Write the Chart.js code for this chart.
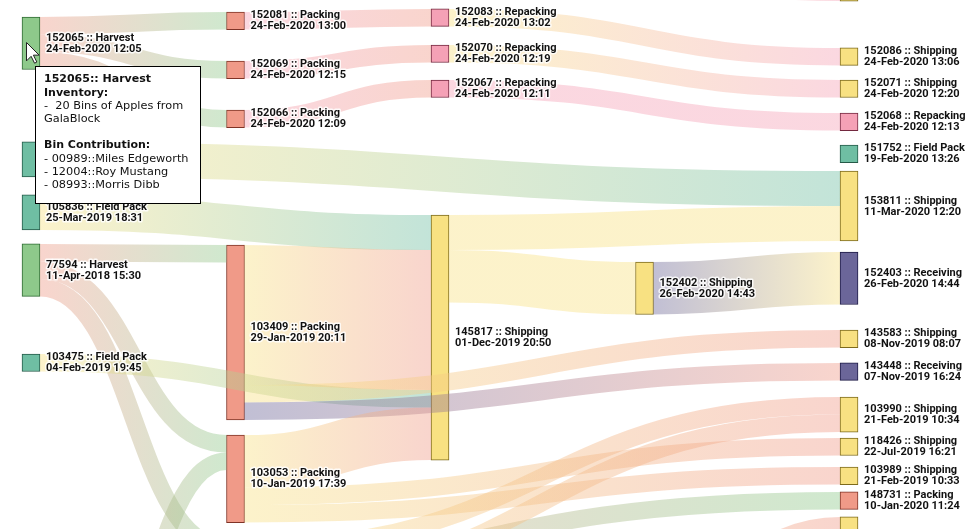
<!DOCTYPE html>
<html>
<head>
<meta charset="utf-8">
<script src="https://cdn.jsdelivr.net/npm/chart.js@4.4.1/dist/chart.umd.min.js"></script>
<style>
  html, body { margin: 0; padding: 0; background: #fff; }
  #wrap { position: relative; width: 977px; height: 529px; }
</style>
</head>
<body>
<div id="wrap"><canvas id="sankey"></canvas></div>
<script>
// ---------- Nodes (blank id = node whose label is off screen / hidden) ----------
const NODE_ID = [
  '152065', '', '105836', '77594', '103475', '', '',
  '152081', '152069', '152066', '103409', '103053', '', '',
  '', '152083', '152070', '152067', '145817', '',
  '152402',
  '', '152086', '152071', '152068', '151752', '153811', '152403', '143583', '143448',
  '103990', '118426', '103989', '148731', ''
];
const NODE_TYPE = [
  'Harvest', 'Field Pack', 'Field Pack', 'Harvest', 'Field Pack', 'Harvest', 'Harvest',
  'Packing', 'Packing', 'Packing', 'Packing', 'Packing', 'Packing', 'Packing',
  'Repacking', 'Repacking', 'Repacking', 'Repacking', 'Shipping', 'Packing',
  'Shipping',
  'Shipping', 'Shipping', 'Shipping', 'Repacking', 'Field Pack', 'Shipping', 'Receiving', 'Shipping', 'Receiving',
  'Shipping', 'Shipping', 'Shipping', 'Packing', 'Shipping'
];
const NODE_TIME = [
  '24-Feb-2020 12:05', '', '25-Mar-2019 18:31', '11-Apr-2018 15:30', '04-Feb-2019 19:45', '', '',
  '24-Feb-2020 13:00', '24-Feb-2020 12:15', '24-Feb-2020 12:09', '29-Jan-2019 20:11', '10-Jan-2019 17:39', '', '',
  '', '24-Feb-2020 13:02', '24-Feb-2020 12:19', '24-Feb-2020 12:11', '01-Dec-2019 20:50', '',
  '26-Feb-2020 14:43',
  '', '24-Feb-2020 13:06', '24-Feb-2020 12:20', '24-Feb-2020 12:13', '19-Feb-2020 13:26', '11-Mar-2020 12:20',
  '26-Feb-2020 14:44', '08-Nov-2019 08:07', '07-Nov-2019 16:24',
  '21-Feb-2019 10:34', '22-Jul-2019 16:21', '21-Feb-2019 10:33', '10-Jan-2020 11:24', ''
];
const NODE_COLUMN = [
  0, 0, 0, 0, 0, 0, 0,
  1, 1, 1, 1, 1, 1, 1,
  2, 2, 2, 2, 2, 2,
  3,
  4, 4, 4, 4, 4, 4, 4, 4, 4, 4, 4, 4, 4, 4
];
// top of each node, in bins (same unit as the flows)
const NODE_TOP = [
  0.97, 8.11, 11.14, 13.94, 20.23, 33.5, 48,
  0.69, 3.49, 6.29, 14.0, 24.86, 30.8, 32.74,
  -4, 0.51, 2.57, 4.57, 12.29, 50,
  14.97,
  -0.94, 2.74, 4.57, 6.46, 8.29, 9.77, 14.4, 18.86, 20.74, 22.69, 25.03, 26.69, 28.11, 29.54
];

// ---------- Flows (node index -> node index, bins) ----------
const LINK_SOURCE = [0, 0, 0, 7, 8, 9, 15, 16, 17, 1, 2, 3, 3, 3, 4, 6, 5, 10, 10, 10, 11, 11, 11, 18, 18, 20, 12, 13, 19, 14];
const LINK_TARGET = [7, 8, 9, 15, 16, 17, 22, 23, 24, 26, 18, 10, 11, 12, 18, 11, 33, 18, 28, 29, 18, 31, 32, 26, 20, 27, 30, 30, 34, 21];
const LINK_VALUE  = [1, 1, 1, 1, 1, 1, 1, 1, 1, 2, 2, 1, 1, 1, 1, 1, 1, 8, 1, 1, 3, 1, 1, 2, 3, 3, 1, 1, 1, 1];

// ---------- Tooltip content ----------
const TIP_LINES = [
  { text: '152065:: Harvest', bold: true },
  { text: 'Inventory:', bold: true },
  { text: '-  20 Bins of Apples from', bold: false },
  { text: 'GalaBlock', bold: false },
  { text: '', bold: false },
  { text: 'Bin Contribution:', bold: true },
  { text: '- 00989::Miles Edgeworth', bold: false },
  { text: '- 12004::Roy Mustang', bold: false },
  { text: '- 08993::Morris Dibb', bold: false }
];

// ---------- Styles ----------
const TYPE_FILL = {
  'Harvest': '#8ec98b', 'Field Pack': '#6fbea3', 'Packing': '#f09a88',
  'Repacking': '#f5a1b6', 'Shipping': '#f8e182', 'Receiving': '#6b6699'
};
const TYPE_STROKE = {
  'Harvest': '#2f6b33', 'Field Pack': '#255a48', 'Packing': '#7f3326',
  'Repacking': '#73283f', 'Shipping': '#7d6a1c', 'Receiving': '#1d1a45'
};
const NODE_WIDTH = 18;
const UNIT_PX = 17.5;
const VIEW_H = 529;
const LINK_ALPHA = 0.42;

function rgba(hex, a) {
  const n = parseInt(hex.slice(1), 16);
  return `rgba(${n >> 16},${(n >> 8) & 255},${n & 255},${a})`;
}

// ---------- Layout: node sizes and link slots ----------
const nodeSize = NODE_ID.map((_, n) => {
  let inn = 0, out = 0;
  LINK_VALUE.forEach((v, i) => {
    if (LINK_SOURCE[i] === n) out += v;
    if (LINK_TARGET[i] === n) inn += v;
  });
  return Math.max(inn, out, 1);
});

const slotS = [], slotT = [];
NODE_ID.forEach((_, n) => {
  const idx = LINK_VALUE.map((_, i) => i);
  let acc = NODE_TOP[n];
  idx.filter(i => LINK_SOURCE[i] === n)
    .sort((a, b) => NODE_TOP[LINK_TARGET[a]] - NODE_TOP[LINK_TARGET[b]] || a - b)
    .forEach(i => { slotS[i] = acc; acc += LINK_VALUE[i]; });
  acc = NODE_TOP[n];
  idx.filter(i => LINK_TARGET[i] === n)
    .sort((a, b) => NODE_TOP[LINK_SOURCE[a]] - NODE_TOP[LINK_SOURCE[b]] || a - b)
    .forEach(i => { slotT[i] = acc; acc += LINK_VALUE[i]; });
});

// ---------- Plugins ----------
const linksPlugin = {
  id: 'sankeyLinks',
  afterDatasetsDraw(chart) {
    const { ctx, scales: { x, y } } = chart;
    const half = NODE_WIDTH / 2;
    ctx.save();
    LINK_VALUE.forEach((v, i) => {
      const s = LINK_SOURCE[i], t = LINK_TARGET[i];
      const x0 = x.getPixelForValue(NODE_COLUMN[s]) + half;
      const x1 = x.getPixelForValue(NODE_COLUMN[t]) - half;
      const xm = (x0 + x1) / 2;
      const y0 = y.getPixelForValue(slotS[i] + v / 2);
      const y1 = y.getPixelForValue(slotT[i] + v / 2);
      const g = ctx.createLinearGradient(x0, 0, x1, 0);
      g.addColorStop(0, rgba(TYPE_FILL[NODE_TYPE[t]], LINK_ALPHA));
      g.addColorStop(1, rgba(TYPE_FILL[NODE_TYPE[s]], LINK_ALPHA));
      ctx.beginPath();
      ctx.moveTo(x0, y0);
      ctx.bezierCurveTo(xm, y0, xm, y1, x1, y1);
      ctx.lineWidth = Math.abs(y.getPixelForValue(v) - y.getPixelForValue(0));
      ctx.strokeStyle = g;
      ctx.lineCap = 'butt';
      ctx.stroke();
    });
    ctx.restore();
  }
};

const labelsPlugin = {
  id: 'sankeyLabels',
  afterDatasetsDraw(chart) {
    const { ctx, scales: { x, y } } = chart;
    ctx.save();
    ctx.font = 'bold 11px Roboto';
    ctx.textBaseline = 'middle';
    ctx.lineJoin = 'round';
    NODE_ID.forEach((id, n) => {
      if (!id) return;
      const lx = x.getPixelForValue(NODE_COLUMN[n]) + NODE_WIDTH / 2 + 6;
      const cy = y.getPixelForValue(NODE_TOP[n] + nodeSize[n] / 2);
      [[id + ' :: ' + NODE_TYPE[n], cy - 5.2], [NODE_TIME[n], cy + 5.8]].forEach(([txt, ty]) => {
        ctx.strokeStyle = 'rgba(255,255,255,0.85)';
        ctx.lineWidth = 3;
        ctx.strokeText(txt, lx, ty);
        ctx.fillStyle = '#111';
        ctx.fillText(txt, lx, ty);
      });
    });
    ctx.restore();
  }
};

const tooltipPlugin = {
  id: 'staticTip',
  afterDraw(chart) {
    const { ctx } = chart;
    ctx.save();
    // box
    ctx.fillStyle = '#fff';
    ctx.fillRect(35.5, 66.5, 165, 137);
    ctx.strokeStyle = '#000';
    ctx.lineWidth = 1;
    ctx.strokeRect(35.5, 66.5, 165, 137);
    ctx.textBaseline = 'middle';
    ctx.fillStyle = '#111';
    TIP_LINES.forEach((l, i) => {
      ctx.font = l.bold ? 'bold 11px "DejaVu Sans"' : '11.3px "DejaVu Sans"';
      ctx.fillText(l.text, 44, 79.5 + i * 13.2);
    });
    // mouse pointer
    const px = 26.5, py = 42.5, k = 1.15;
    const pts = [[0, 0], [0, 16], [4, 12], [7, 18], [9, 17], [6, 11], [11, 11]];
    ctx.beginPath();
    pts.forEach(([a, b], i) => i ? ctx.lineTo(px + a * k, py + b * k) : ctx.moveTo(px + a * k, py + b * k));
    ctx.closePath();
    ctx.fillStyle = '#fff';
    ctx.fill();
    ctx.strokeStyle = '#222';
    ctx.lineWidth = 1;
    ctx.stroke();
    ctx.restore();
  }
};

// ---------- Chart ----------
new Chart(document.getElementById('sankey'), {
  type: 'bar',
  data: {
    datasets: [{
      data: NODE_ID.map((_, n) => ({ x: NODE_COLUMN[n], y: [NODE_TOP[n], NODE_TOP[n] + nodeSize[n]] })),
      backgroundColor: NODE_TYPE.map(t => TYPE_FILL[t]),
      borderColor: NODE_TYPE.map(t => TYPE_STROKE[t]),
      borderWidth: 1,
      borderSkipped: false,
      barThickness: NODE_WIDTH
    }]
  },
  options: {
    responsive: true,
    maintainAspectRatio: false,
    animation: false,
    events: [],
    layout: { padding: 0 },
    plugins: { legend: { display: false }, tooltip: { enabled: false } },
    scales: {
      x: { type: 'linear', display: false, offset: false, min: -0.1516, max: 4.6259 },
      y: { type: 'linear', display: false, reverse: true, min: 0, max: VIEW_H / UNIT_PX }
    }
  },
  plugins: [linksPlugin, labelsPlugin, tooltipPlugin]
});
</script>
</body>
</html>
